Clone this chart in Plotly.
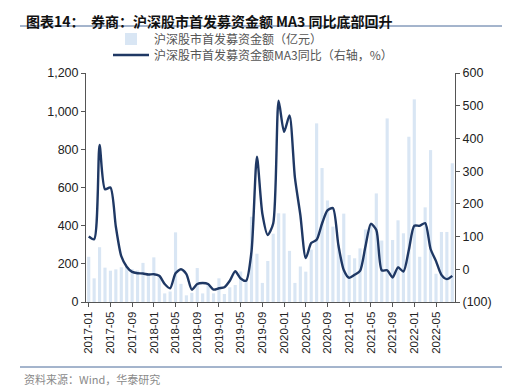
import plotly.graph_objects as go

months = [f"{y}-{m:02d}" for y in range(2017, 2023) for m in range(1, 13)][:68]

ipo_amount = [237, 124, 287, 180, 164, 171, 182, 185, 172, 165, 205, 150,
              234, 130, 45, 55, 365, 95, 35, 48, 178, 45, 90, 45,
              124, 42, 77, 89, 160, 112, 447, 253, 100, 215, 358, 465,
              464, 268, 100, 186, 159, 275, 936, 702, 532, 395, 300, 463,
              246, 229, 281, 380, 410, 569, 322, 962, 325, 428, 360, 866,
              1062, 237, 496, 796, 148, 367, 367, 727]

ma3_yoy = [100, 92, 380, 245, 250, 130, 40, 8, -8, -12, -13, -16,
           -15, -20, -45, -58, -12, 0, -15, -62, -45, -42, -45, -62,
           -58, -55, -35, -6, -28, -35, 55, 344, 170, 105, 140, 515,
           420, 470, 280, 166, 34, 80, 90, 140, 180, 187, 75, -2,
           -26, -17, -5, 70, 139, 120, -3, -3, -25, 6, -7, 60,
           133, 133, 141, 62, 25, -17, -30, -20]

left_ticks = [0, 200, 400, 600, 800, 1000, 1200]
left_labels = ["0", "200", "400", "600", "800", "1,000", "1,200"]
right_ticks = [-100, 0, 100, 200, 300, 400, 500, 600]
right_labels = ["(100)", "0", "100", "200", "300", "400", "500", "600"]

x_tickvals = months[::4]

# page body has an 8px margin; work in screenshot pixel coordinates
OFF = 8
PL, PR, PT, PB = 86, 455, 73, 302
PW, PH = PR - PL, PB - PT
W, H = 510 - OFF, 391 - OFF


def px(x):
    return (x - PL) / PW


def py(y):
    return (PB - y) / PH


fig = go.Figure()
fig.add_trace(go.Bar(
    x=months, y=ipo_amount, name="沪深股市首发募资金额（亿元）",
    marker=dict(color="#d9e6f4", line=dict(width=0)), yaxis="y", legend="legend"))
fig.add_trace(go.Scatter(
    x=months, y=ma3_yoy, name="沪深股市首发募资金额MA3同比（右轴，%）",
    mode="lines", line=dict(color="#1f3864", width=2.4, shape="spline", smoothing=0.7),
    yaxis="y2", legend="legend2"))

axis_font = dict(family="Liberation Sans, Arial", size=12.5, color="#222")
leg_font = dict(family="Noto Sans CJK SC", size=12, color="#555")

fig.update_layout(
    width=W, height=H,
    margin=dict(l=PL - OFF, r=W - (PR - OFF), t=PT - OFF, b=H - (PB - OFF), autoexpand=False),
    paper_bgcolor="white", plot_bgcolor="white",
    bargap=0.42,
    showlegend=True,
    legend=dict(x=px(108), y=py(39), xanchor="left", yanchor="middle",
                font=leg_font, bgcolor="rgba(0,0,0,0)", itemwidth=36),
    legend2=dict(x=px(108), y=py(55), xanchor="left", yanchor="middle",
                 font=leg_font, bgcolor="rgba(0,0,0,0)", itemwidth=36),
    xaxis=dict(type="category", range=[-0.5, 67.5], automargin=False,
               tickmode="array", tickvals=x_tickvals, ticktext=x_tickvals,
               tickangle=-90, tickfont=dict(family="Liberation Sans, Arial", size=11.5, color="#222"),
               showline=True, linecolor="#555", linewidth=1,
               ticks="outside", ticklen=4, tickcolor="#555",
               showgrid=False, zeroline=False),
    yaxis=dict(range=[0, 1200], tickmode="array", tickvals=left_ticks, ticktext=left_labels,
               tickfont=axis_font, showline=True, linecolor="#555", linewidth=1,
               ticks="outside", ticklen=4, tickcolor="#555", automargin=False,
               showgrid=False, zeroline=False),
    yaxis2=dict(range=[-100, 600], overlaying="y", side="right",
                tickmode="array", tickvals=right_ticks, ticktext=right_labels,
                tickfont=axis_font, showline=True, linecolor="#555", linewidth=1,
                ticks="outside", ticklen=4, tickcolor="#555", automargin=False,
                showgrid=False, zeroline=False),
)

fig.add_annotation(
    text="<b>图表14：  券商：沪深股市首发募资金额 MA3 同比底部回升</b>",
    xref="paper", yref="paper", x=px(24), y=py(9),
    xanchor="left", yanchor="top", showarrow=False,
    font=dict(family="Noto Sans CJK SC", size=14, color="#111"))

fig.add_annotation(
    text="资料来源：Wind，华泰研究",
    xref="paper", yref="paper", x=px(22), y=py(379),
    xanchor="left", yanchor="middle", showarrow=False,
    font=dict(family="Noto Sans CJK SC", size=11, color="#8a8a8a"))

for yy in (26, 367):
    fig.add_shape(type="line", xref="paper", yref="paper",
                  x0=px(20), x1=px(505), y0=py(yy), y1=py(yy),
                  line=dict(color="#4a6a9a", width=1))

fig.write_html("out.html")
